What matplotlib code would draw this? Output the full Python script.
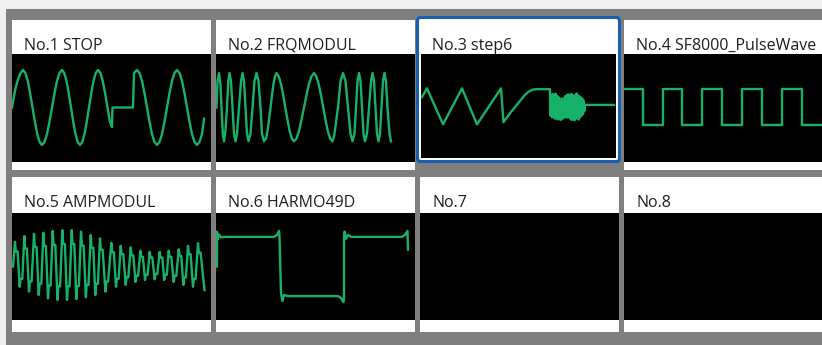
import numpy as np
import matplotlib.pyplot as plt
from matplotlib.patches import Rectangle, FancyBboxPatch

W, H = 822, 345

labels = ["No.1 STOP", "No.2 FRQMODUL", "No.3 step6", "No.4 SF8000_PulseWave",
          "No.5 AMPMODUL", "No.6 HARMO49D", "No.7", "No.8"]

# waveform vertices: x = px from the tile's left edge, level = screen units (1.0 = 37.5 px)
stop_x = [0, 3, 5.5, 8.5, 11, 13.4, 15.75, 18.1, 20.5, 22.9, 25.25, 27.6, 30,
          32.5, 35, 37.5, 40, 42.5, 45, 47.5, 50, 52.25, 54.5, 56.75, 59, 61.25, 63.5, 65.75, 68,
          70.25, 72.5, 74.75, 77, 79.25, 81.5, 83.75, 86, 88.4, 90.75, 93.1, 95.5, 97.9, 100,
          100.5, 121, 122, 125, 127.5, 130, 132.5, 135, 137.5, 140, 142.5, 145,
          147.5, 150, 152.5, 155, 157.5, 160, 162.5, 165, 167.5, 170, 172.5, 175, 177.5, 180,
          182.5, 185, 187.5, 190, 192]
stop_y = [0.0, 0.45, 0.71, 0.92, 1.0, 0.92, 0.71, 0.38, 0.0, -0.38, -0.71, -0.92, -1.0,
          -0.92, -0.71, -0.38, 0.0, 0.38, 0.71, 0.92, 1.0, 0.92, 0.71, 0.38, 0.0, -0.38, -0.71, -0.92, -1.0,
          -0.92, -0.71, -0.38, 0.0, 0.38, 0.71, 0.92, 1.0, 0.92, 0.71, 0.38, 0.0, -0.38, -0.52,
          0.0, 0.0, 0.92, 1.0, 0.92, 0.71, 0.38, 0.0, -0.38, -0.71, -0.92, -1.0,
          -0.92, -0.71, -0.38, 0.0, 0.38, 0.71, 0.92, 1.0, 0.92, 0.71, 0.38, 0.0, -0.38, -0.71,
          -0.92, -1.0, -0.92, -0.71, -0.3]

frq_x = [0.5, 1.5, 3, 4.5, 5.5, 6.8, 8, 9.5, 11, 12.3, 13.5, 15, 16.5, 18, 19.5, 21, 23, 25,
         26.5, 28, 29.5, 31, 32.5, 34.5, 36.5, 38.5, 40.5, 42.5, 44.5, 46, 48,
         50, 51.5, 53, 54.5, 56, 57.5, 59, 60.5, 62.7, 65, 67.2, 69.3, 71.5, 73.7, 75.9, 78,
         80.5, 83, 85.5, 88, 90.5, 93, 95.5, 98, 100.3, 102.6, 105, 107.2, 109.5, 111.8, 114.2,
         116.5, 118.2, 120, 122, 124.5, 127,
         129.5, 132, 134.5, 136.5, 138.5, 140, 141.5, 143, 144.5, 146, 147.5, 149, 151, 153,
         155, 156.5, 158, 159.5, 161, 162.5, 164, 165.5, 167, 168.5, 170, 171.5, 173.5, 175]
frq_y = [0.0, 0.7, 0.92, 0.6, 0.0, -0.7, -0.9, -0.6, 0.0, 0.7, 0.92, 0.7, 0.0, -0.7, -0.9, -0.7, 0.0, 0.7,
         0.92, 0.7, 0.0, -0.7, -0.9, -0.7, 0.0, 0.7, 0.92, 0.7, 0.0, -0.7, -0.9,
         -0.83, -0.63, -0.33, 0.0, 0.33, 0.63, 0.83, 0.92, 0.83, 0.63, 0.33, 0.0, -0.33, -0.63, -0.83, -0.9,
         -0.83, -0.63, -0.33, 0.0, 0.33, 0.63, 0.83, 0.92, 0.83, 0.63, 0.33, 0.0, -0.33, -0.63, -0.83,
         -0.9, -0.75, -0.4, 0.0, 0.7, 0.92,
         0.7, 0.0, -0.7, -0.9, -0.7, 0.0, 0.7, 0.92, 0.7, 0.0, -0.7, -0.9, -0.7, 0.0,
         0.7, 0.92, 0.7, 0.0, -0.7, -0.9, -0.7, 0.0, 0.7, 0.92, 0.7, 0.0, -0.7, -0.9]

step_x = [2, 7, 23, 42, 57, 81, 83.5, 91, 98, 104.7, 109, 113, 118, 130]
step_y = [0.28, 0.51, -0.45, 0.51, -0.45, 0.51, -0.39, -0.12, 0.11, 0.33, 0.43, 0.48, 0.49, 0.49]
burst_y = [0.30, -0.22, 0.34, -0.26, 0.36, -0.25, 0.33, -0.30, 0.37, -0.28, 0.31, -0.32, 0.28,
           -0.30, 0.22, -0.33, 0.24, -0.31, 0.20, -0.28, 0.25, -0.26, 0.30, -0.24, 0.33, -0.27,
           0.35, -0.25, 0.32, -0.30, 0.36, -0.33, 0.34, -0.31, 0.29, -0.34, 0.33, -0.30, 0.37,
           -0.28, 0.32, -0.32, 0.30, -0.26, 0.27, -0.22, 0.24, -0.18, 0.18, -0.10, 0.07]
step_tail_x = [165, 194]
step_tail_y = [0.07, 0.07]

pulse_x = [0, 19, 19, 39, 39, 58, 58, 78, 78, 98, 98, 118, 118, 138, 138, 158, 158, 178, 178, 198]
pulse_y = [0.49, 0.49, -0.47, -0.47, 0.49, 0.49, -0.47, -0.47, 0.49, 0.49, -0.47, -0.47,
           0.49, 0.49, -0.47, -0.47, 0.49, 0.49, -0.47, -0.47]

# AMPMODUL: read levels per cycle (peak, step after peak, trough, step after trough)
amp_peak_x = [3, 12.3, 22, 31.3, 40.7, 50.3, 59.7, 69, 78.7, 88, 99.3, 108.7, 118.7, 128.3,
              137.7, 147.7, 156.7, 166.7, 176, 186]
amp_peak_y = [0.66, 0.81, 0.87, 0.90, 0.95, 0.97, 0.97, 0.93, 0.84, 0.75, 0.63, 0.55, 0.51,
              0.42, 0.39, 0.39, 0.42, 0.46, 0.55, 0.62]
amp_hi_y = [0.40, 0.48, 0.52, 0.55, 0.58, 0.60, 0.60, 0.56, 0.50, 0.45, 0.38, 0.33, 0.30,
            0.26, 0.24, 0.24, 0.26, 0.28, 0.33, 0.37]
amp_trough_x = [7.7, 17, 26.7, 36, 45.5, 55, 64.3, 73.9, 83.3, 93.5, 104, 113.7, 123.5, 133,
                142.7, 152.2, 161.7, 171.3, 181, 192.5]
amp_trough_y = [-0.54, -0.67, -0.76, -0.85, -0.89, -0.89, -0.87, -0.82, -0.76, -0.67, -0.54,
                -0.49, -0.41, -0.36, -0.34, -0.36, -0.41, -0.49, -0.54, -0.63]
amp_lo_y = [-0.33, -0.40, -0.46, -0.51, -0.53, -0.53, -0.52, -0.49, -0.46, -0.40, -0.33, -0.29,
            -0.25, -0.22, -0.20, -0.22, -0.25, -0.29, -0.33, -0.38]
amp_step_dx = [0.8, 2.6]

harmo_x = [1, 1, 1.6, 3, 5, 9, 58, 61, 63, 63.5, 65, 65.5, 66.5, 68, 72, 122, 125, 127.5, 128,
           128, 128.6, 130, 132, 135, 186, 189, 191.5, 192]
harmo_y = [0.0, 0.93, 0.72, 0.85, 0.78, 0.79, 0.79, 0.84, 0.95, 0.79, -0.72, -0.79, -0.92, -0.76,
           -0.79, -0.79, -0.84, -0.95, -0.79, 0.79, 0.93, 0.74, 0.84, 0.79, 0.79, 0.84, 0.95, 0.45]

# build the amp-modulated trace from its read levels: edge, short step, edge
amp_x = [1]
amp_y = [0.0]
for px, py, hy, tx, ty, ly in zip(amp_peak_x, amp_peak_y, amp_hi_y,
                                  amp_trough_x, amp_trough_y, amp_lo_y):
    amp_x += [px, px + amp_step_dx[0], px + amp_step_dx[1],
              tx, tx + amp_step_dx[0], tx + amp_step_dx[1]]
    amp_y += [py, hy, hy, ty, ly, ly]
amp_x = amp_x[:-2]
amp_y = amp_y[:-2]

step_all_x = step_x + list(np.linspace(step_x[-1], step_tail_x[0], len(burst_y))) + step_tail_x
step_all_y = step_y + burst_y + step_tail_y

waves = [(stop_x, stop_y), (frq_x, frq_y), (step_all_x, step_all_y), (pulse_x, pulse_y),
         (amp_x, amp_y), (harmo_x, harmo_y), None, None]

# layout in pixels
col_left = [12, 216, 420, 624]
col_right = [211, 415, 619, 822]
white_top = [20, 177]
white_bot = [170, 332]
black_top = [54, 213]
black_bot = [162, 320]
text_base = [50, 207]
row_center = [107.5, 266.5]
unit = 37.5
green = '#17b26a'

plt.rcParams['font.family'] = ['Open Sans', 'DejaVu Sans']

fig = plt.figure(figsize=(W / 100, H / 100), dpi=100)
fig.patch.set_facecolor('#efefef')
bg = fig.add_axes([0, 0, 1, 1])
bg.set_xlim(0, W)
bg.set_ylim(H, 0)
bg.axis('off')
bg.add_patch(Rectangle((6, 9), W - 6, H - 9, color='#7f7f7f', lw=0))

for i in range(8):
    r, c = divmod(i, 4)
    l, rr = col_left[c], col_right[c]
    bt, bb = black_top[r], black_bot[r]
    if i == 2:
        # selected tile
        bg.add_patch(FancyBboxPatch((417.5, 17.5), 202, 144, boxstyle='round,pad=0,rounding_size=3',
                                    fc='white', ec='#1a5fae', lw=2.2, zorder=3))
        l, rr, bb = 421, 616, 158
    else:
        bg.add_patch(Rectangle((l, white_top[r]), rr - l, white_bot[r] - white_top[r],
                               color='white', lw=0))
    bg.text(col_left[c] + 12, text_base[r], labels[i], fontsize=11.5, color='#1f1f1f',
            va='baseline', ha='left', zorder=5)

    ax = fig.add_axes([l / W, 1 - bb / H, (rr - l) / W, (bb - bt) / H], zorder=4)
    ax.set_facecolor('black')
    ax.set_xticks([])
    ax.set_yticks([])
    for s in ax.spines.values():
        s.set_visible(False)
    ax.set_xlim(l - col_left[c], rr - col_left[c])
    ax.set_ylim((row_center[r] - bb) / unit, (row_center[r] - bt) / unit)
    if waves[i] is not None:
        ax.plot(waves[i][0], waves[i][1], color=green, lw=1.7)

fig.savefig('out.png', dpi=100, facecolor=fig.get_facecolor())
